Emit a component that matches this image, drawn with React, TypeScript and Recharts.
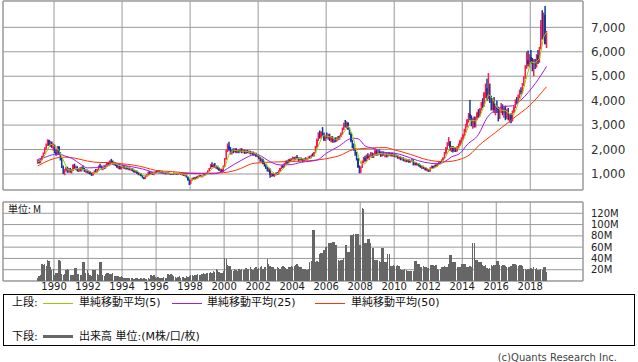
import {
  Bar,
  CartesianGrid,
  ComposedChart,
  Line,
  ReferenceArea,
  XAxis,
  YAxis,
} from 'recharts';

const FONT = "'DejaVu Sans', 'Noto Sans CJK JP', sans-serif";
const CJK = "'Noto Sans CJK JP', 'DejaVu Sans', sans-serif";

const FIRST_YEAR = 1989;
const X_DOMAIN: [number, number] = [1987, 2021.1];
const PRICE_DOMAIN: [number, number] = [345, 8077];
const VOLUME_DOMAIN: [number, number] = [0, 140];

const YEAR_TICKS = [1990, 1992, 1994, 1996, 1998, 2000, 2002, 2004, 2006, 2008, 2010, 2012, 2014, 2016, 2018];
const PRICE_TICKS = [1000, 2000, 3000, 4000, 5000, 6000, 7000];
const VOLUME_TICKS = [20, 40, 60, 80, 100, 120];

// monthly candles from Jan 1989: [open, high, low, close]
const candles: number[][] = [
  [1450,1600,1420,1520],[1520,1580,1430,1460],[1460,1620,1440,1580],[1580,1750,1550,1720],[1720,1880,1690,1850],[1850,2100,1820,2050],[2050,2250,1980,2200],[2200,2420,2150,2380],[2380,2400,2150,2200],[2200,2350,2100,2300],[2300,2330,2050,2100],[2100,2250,1950,2180],
  [2180,2200,1850,1900],[1900,2000,1750,1800],[1800,2150,1780,2100],[2100,2150,1800,1850],[1850,1900,1550,1600],[1600,1650,1250,1300],[1300,1350,1000,1050],[1050,1200,950,1150],[1150,1300,1100,1250],[1250,1300,1050,1100],[1100,1250,1050,1200],[1200,1250,1050,1080],
  [1080,1200,1020,1150],[1150,1400,1120,1350],[1350,1420,1200,1250],[1250,1350,1150,1300],[1300,1320,1100,1150],[1150,1250,1080,1200],[1200,1280,1100,1150],[1150,1300,1100,1250],[1250,1350,1150,1200],[1200,1250,1080,1100],[1100,1200,1050,1150],[1150,1180,1030,1060],
  [1060,1150,1000,1100],[1100,1120,980,1000],[1000,1050,920,950],[950,1080,930,1050],[1050,1150,1020,1120],[1120,1200,1050,1080],[1080,1200,1060,1180],[1180,1350,1150,1320],[1320,1420,1250,1300],[1300,1350,1180,1200],[1200,1300,1150,1280],[1280,1320,1200,1250],
  [1250,1380,1220,1350],[1350,1480,1300,1450],[1450,1500,1320,1380],[1380,1560,1350,1520],[1520,1620,1450,1480],[1480,1550,1380,1400],[1400,1500,1350,1450],[1450,1480,1320,1350],[1350,1400,1250,1280],[1280,1350,1200,1320],[1320,1340,1180,1220],[1220,1320,1180,1300],
  [1300,1380,1250,1350],[1350,1370,1200,1230],[1230,1300,1180,1280],[1280,1320,1180,1200],[1200,1280,1150,1250],[1250,1270,1150,1170],[1170,1250,1120,1220],[1220,1240,1100,1130],[1130,1180,1050,1080],[1080,1150,1040,1120],[1120,1140,1000,1030],[1030,1080,950,980],
  [980,1050,940,1020],[1020,1030,900,920],[920,950,820,850],[850,880,780,820],[820,950,800,920],[920,1000,880,980],[980,1100,950,1080],[1080,1120,980,1000],[1000,1080,960,1050],[1050,1070,960,980],[980,1060,950,1040],[1040,1120,1000,1100],
  [1100,1150,1050,1080],[1080,1160,1060,1130],[1130,1150,1040,1060],[1060,1120,1030,1100],[1100,1130,1020,1050],[1050,1090,1000,1070],[1070,1080,980,1000],[1000,1060,980,1040],[1040,1070,990,1010],[1010,1050,970,1030],[1030,1040,960,980],[980,1040,960,1020],
  [1020,1060,980,1000],[1000,1050,970,1030],[1030,1050,960,980],[980,1040,960,1020],[1020,1060,990,1040],[1040,1050,960,980],[980,1020,940,1000],[1000,1010,920,940],[940,980,900,960],[960,970,850,870],[870,900,720,750],[750,780,550,620],
  [620,760,580,740],[740,850,720,820],[820,860,760,790],[790,880,770,860],[860,900,820,840],[840,930,820,910],[910,970,880,950],[950,960,870,890],[890,950,860,930],[930,1000,900,980],[980,1030,940,960],[960,1060,950,1040],
  [1040,1150,1020,1120],[1120,1250,1100,1230],[1230,1400,1200,1380],[1380,1480,1280,1300],[1300,1420,1260,1400],[1400,1450,1250,1280],[1280,1350,1200,1320],[1320,1340,1180,1200],[1200,1260,1120,1150],[1150,1200,1080,1180],[1180,1200,1070,1100],[1100,1350,1080,1320],
  [1320,1650,1300,1600],[1600,2000,1580,1950],[1950,2250,1900,2150],[2150,2320,1950,2000],[2000,2100,1800,1850],[1850,2000,1800,1980],[1980,2050,1850,1900],[1900,2050,1880,2020],[2020,2060,1850,1880],[1880,2000,1850,1970],[1970,2000,1850,1900],[1900,2050,1880,2000],
  [2000,2050,1850,1900],[1900,2000,1870,1960],[1960,2000,1820,1850],[1850,1980,1820,1950],[1950,1990,1850,1880],[1880,1960,1840,1930],[1930,1950,1800,1830],[1830,1920,1800,1900],[1900,1920,1750,1780],[1780,1880,1750,1850],[1850,1870,1700,1720],[1720,1820,1680,1780],
  [1780,1800,1600,1650],[1650,1700,1500,1550],[1550,1650,1500,1600],[1600,1620,1400,1420],[1420,1480,1300,1330],[1330,1400,1200,1250],[1250,1300,1100,1150],[1150,1250,1080,1200],[1200,1220,850,950],[950,1050,880,1000],[1000,1020,900,930],[930,1000,880,980],
  [980,1060,940,1040],[1040,1080,960,1000],[1000,1150,980,1120],[1120,1250,1100,1230],[1230,1350,1200,1320],[1320,1380,1250,1280],[1280,1450,1260,1420],[1420,1550,1400,1520],[1520,1560,1400,1450],[1450,1620,1430,1580],[1580,1620,1480,1520],[1520,1650,1500,1620],
  [1620,1720,1580,1680],[1680,1700,1550,1580],[1580,1720,1560,1700],[1700,1780,1600,1640],[1640,1680,1520,1560],[1560,1680,1540,1650],[1650,1670,1550,1580],[1580,1620,1480,1550],[1550,1650,1530,1620],[1620,1680,1560,1600],[1600,1660,1560,1640],[1640,1720,1600,1700],
  [1700,1750,1620,1660],[1660,1800,1640,1780],[1780,1850,1700,1740],[1740,1900,1720,1880],[1880,2150,1850,2100],[2100,2450,2050,2400],[2400,2700,2350,2650],[2650,2780,2450,2500],[2500,2750,2450,2700],[2700,2920,2550,2600],[2600,2700,2350,2400],[2400,2600,2350,2550],
  [2550,2700,2450,2500],[2500,2650,2400,2600],[2600,2650,2350,2400],[2400,2550,2300,2500],[2500,2550,2280,2320],[2320,2480,2280,2450],[2450,2500,2300,2350],[2350,2500,2320,2480],[2480,2550,2380,2420],[2420,2580,2400,2550],[2550,2700,2500,2650],[2650,2900,2600,2850],
  [2850,3100,2800,3050],[3050,3210,2900,2950],[2950,3150,2850,3100],[3100,3120,2800,2850],[2850,2900,2600,2650],[2650,2700,2300,2350],[2350,2400,2050,2100],[2100,2250,1950,2000],[2000,2050,1750,1800],[1800,1900,1550,1600],[1600,1650,1250,1300],[1300,1350,1030,1100],
  [1100,1320,1030,1280],[1280,1550,1250,1500],[1500,1700,1450,1650],[1650,1750,1500,1550],[1550,1800,1520,1750],[1750,1850,1600,1650],[1650,1800,1580,1750],[1750,1900,1700,1850],[1850,1880,1650,1700],[1700,1850,1650,1800],[1800,2050,1750,1950],[1950,2000,1750,1800],
  [1800,1950,1750,1900],[1900,2000,1800,1850],[1850,1900,1700,1750],[1750,1900,1720,1880],[1880,1920,1750,1780],[1780,1850,1680,1820],[1820,1850,1680,1700],[1700,1850,1680,1820],[1820,1900,1750,1780],[1780,1860,1720,1840],[1840,1880,1720,1750],[1750,1830,1700,1800],
  [1800,1850,1680,1720],[1720,1800,1680,1760],[1760,1780,1620,1650],[1650,1720,1600,1700],[1700,1720,1560,1600],[1600,1680,1560,1650],[1650,1680,1520,1550],[1550,1620,1500,1600],[1600,1620,1480,1520],[1520,1600,1480,1580],[1580,1600,1450,1480],[1480,1580,1460,1550],
  [1550,1620,1500,1580],[1580,1600,1350,1400],[1400,1480,1350,1450],[1450,1480,1350,1380],[1380,1450,1340,1420],[1420,1440,1300,1330],[1330,1380,1250,1280],[1280,1350,1200,1320],[1320,1340,1200,1230],[1230,1280,1150,1250],[1250,1270,1130,1160],[1160,1220,1100,1180],
  [1180,1200,1080,1120],[1120,1280,1100,1250],[1250,1350,1220,1320],[1320,1340,1220,1260],[1260,1380,1240,1350],[1350,1400,1280,1310],[1310,1450,1300,1420],[1420,1500,1380,1480],[1480,1520,1400,1450],[1450,1600,1430,1570],[1570,1680,1550,1650],[1650,1900,1630,1850],
  [1850,2100,1800,2050],[2050,2300,2000,2250],[2250,2510,2150,2300],[2300,2350,1950,2000],[2000,2150,1900,2100],[2100,2150,1880,1950],[1950,2100,1900,2050],[2050,2080,1900,1950],[1950,2150,1920,2100],[2100,2250,2050,2200],[2200,2400,2150,2350],[2350,2500,2250,2450],
  [2450,2650,2400,2600],[2600,2850,2550,2800],[2800,3050,2700,3000],[3000,3250,2900,3200],[3200,3500,3100,3450],[3450,4030,3200,3300],[3300,3400,2950,3050],[3050,3300,2850,3250],[3250,3350,2900,2950],[2950,3350,2900,3300],[3300,3550,3200,3500],[3500,3650,3300,3400],
  [3400,3700,3350,3650],[3650,3950,3600,3900],[3900,4100,3700,3800],[3800,4350,3750,4300],[4300,4700,4100,4500],[4500,4900,4000,4100],[4100,5130,4050,4600],[4600,4700,3900,4000],[4000,4200,3600,3700],[3700,4100,3600,4000],[4000,4150,3500,3600],[3600,3800,3400,3700],
  [3700,4000,3500,3600],[3600,3750,3150,3300],[3300,3700,3250,3650],[3650,3900,3500,3800],[3800,3850,3400,3500],[3500,3750,3300,3700],[3700,3800,3200,3300],[3300,3650,3250,3600],[3600,3700,3200,3300],[3300,3450,3100,3400],[3400,3500,3080,3200],[3200,3600,3150,3550],
  [3550,3800,3500,3750],[3750,4050,3700,4000],[4000,4150,3850,3950],[3950,4250,3900,4200],[4200,4450,4100,4400],[4400,4550,4250,4350],[4350,4720,4300,4650],[4650,5000,4600,4950],[4950,5450,4900,5400],[5400,6000,5300,5650],[5650,6050,5400,5500],[5500,5900,5350,5800],
  [5800,6070,5500,5600],[5600,5750,5200,5300],[5300,5700,5000,5600],[5600,5700,5300,5400],[5400,5900,5350,5850],[5850,6070,5500,5600],[5600,6200,5550,6150],[6150,7300,6100,7100],[7100,7700,6500,6700],[6700,7600,6600,7500],[7500,7870,6300,6300],[6300,6850,6150,6450],
];

// monthly volume, millions
const volumes = [
  5, 8, 10, 30, 28, 31, 26, 37, 36, 24, 20, 22,
  10, 15, 15, 37, 36, 12, 11, 12, 20, 21, 19, 10,
  10, 10, 23, 23, 13, 13, 10, 11, 34, 33, 15, 20,
  14, 10, 9, 20, 19, 20, 12, 11, 34, 33, 10, 9,
  12, 14, 15, 13, 12, 14, 8, 9, 8, 8, 7, 8,
  7, 6, 5, 6, 5, 5, 6, 5, 4, 5, 5, 4,
  4, 5, 4, 5, 4, 4, 5, 4, 10, 9, 10, 7,
  6, 7, 6, 5, 6, 7, 6, 5, 12, 11, 12, 10,
  9, 7, 6, 7, 8, 6, 7, 7, 6, 8, 7, 9,
  10, 11, 9, 10, 10, 12, 10, 11, 13, 14, 13, 15,
  14, 15, 16, 15, 17, 16, 21, 20, 16, 15, 14, 17,
  40, 39, 28, 27, 26, 20, 18, 22, 20, 18, 21, 19,
  22, 20, 19, 23, 22, 21, 24, 22, 20, 23, 25, 22,
  23, 24, 26, 22, 24, 25, 39, 30, 26, 25, 24, 22,
  22, 24, 23, 21, 25, 26, 24, 23, 22, 25, 24, 26,
  24, 26, 28, 30, 27, 25, 24, 22, 21, 22, 20, 22,
  34, 35, 90, 90, 34, 35, 33, 47, 50, 49, 55, 60,
  61, 67, 67, 67, 70, 70, 64, 64, 37, 36, 38, 37,
  40, 64, 64, 52, 52, 81, 82, 83, 84, 83, 83, 64,
  64, 130, 128, 67, 67, 74, 74, 67, 58, 58, 37, 37,
  37, 36, 34, 58, 58, 34, 33, 48, 48, 27, 26, 28,
  27, 26, 28, 27, 21, 20, 19, 21, 20, 18, 17, 18,
  18, 17, 35, 35, 31, 31, 25, 24, 26, 25, 24, 23,
  23, 28, 29, 28, 27, 28, 21, 20, 21, 25, 24, 26,
  25, 25, 31, 46, 46, 34, 34, 34, 25, 25, 25, 30,
  30, 31, 30, 25, 24, 26, 25, 68, 68, 37, 37, 34,
  34, 34, 28, 27, 28, 23, 22, 23, 28, 27, 29, 28,
  35, 35, 28, 27, 29, 28, 27, 25, 24, 25, 26, 31,
  31, 30, 28, 27, 29, 28, 27, 21, 22, 20, 21, 22,
  23, 22, 24, 21, 23, 20, 19, 21, 20, 24, 25, 16,
];

// moving averages at the listed month indexes
const sma5Months = [
  0, 3, 6, 9, 12, 15, 18, 21, 24, 27, 30, 33, 36, 39, 42, 45, 48, 51, 54, 57,
  60, 63, 66, 69, 72, 75, 78, 81, 84, 87, 90, 93, 96, 99, 102, 105, 108, 111, 114, 117,
  120, 123, 126, 129, 132, 135, 138, 141, 144, 147, 150, 153, 156, 159, 162, 165, 168, 171, 174, 177,
  180, 183, 186, 189, 192, 195, 198, 201, 204, 207, 210, 213, 216, 219, 222, 225, 228, 231, 234, 237,
  240, 243, 246, 249, 252, 255, 258, 261, 264, 267, 270, 273, 276, 279, 282, 285, 288, 291, 294, 297,
  300, 303, 306, 309, 312, 315, 318, 321, 324, 327, 330, 333, 336, 339, 342, 345, 348, 351, 354, 357, 359,
];
const sma5Values = [
  1500, 1570, 1880, 2226, 2136, 1966, 1580, 1170, 1156, 1226, 1210, 1180, 1122, 1032, 1076, 1216, 1276, 1390, 1446, 1360,
  1294, 1272, 1224, 1144, 1046, 918, 930, 1018, 1050, 1094, 1056, 1030, 1008, 1010, 1004, 950, 788, 766, 870, 932,
  1006, 1214, 1336, 1226, 1270, 1804, 1976, 1950, 1930, 1932, 1888, 1858, 1756, 1600, 1350, 1110, 980, 1074, 1274, 1450,
  1570, 1644, 1626, 1600, 1644, 1752, 2154, 2570, 2550, 2510, 2404, 2450, 2704, 2960, 2610, 1970, 1416, 1416, 1670, 1750,
  1830, 1836, 1786, 1792, 1778, 1726, 1630, 1580, 1542, 1472, 1372, 1282, 1188, 1226, 1332, 1446, 1714, 2090, 2080, 2050,
  2340, 2810, 3200, 3170, 3360, 3810, 4260, 4080, 3720, 3610, 3590, 3460, 3440, 3890, 4310, 5000, 5590, 5540, 5720, 6610, 6810,
];
const sma25Months = [0, 5, 12, 16, 19, 24, 31, 35, 42, 49, 54, 59, 66, 73, 84, 95, 107, 123, 130, 134, 144, 153, 158, 162, 171, 178, 186, 197, 204, 212, 222, 226, 231, 236, 245, 252, 259, 268, 277, 282, 287, 292, 298, 303, 311, 317, 323, 329, 335, 341, 351, 359];
const sma25Values = [1600, 1680, 1800, 1800, 1740, 1640, 1370, 1250, 1260, 1380, 1420, 1370, 1300, 1220, 1050, 1020, 1020, 1010, 1090, 1230, 1570, 1790, 1720, 1570, 1370, 1380, 1480, 1570, 1860, 2120, 2460, 2440, 2150, 2060, 1880, 1850, 1740, 1550, 1440, 1420, 1500, 1700, 1850, 2200, 2620, 3300, 3620, 3760, 3790, 4030, 4700, 5400];
const sma50Months = [0, 5, 12, 19, 26, 35, 44, 51, 59, 68, 76, 83, 95, 107, 119, 131, 137, 143, 151, 155, 167, 179, 191, 203, 215, 220, 227, 245, 251, 263, 275, 287, 299, 305, 311, 323, 335, 347, 359];
const sma50Values = [1330, 1480, 1640, 1690, 1650, 1530, 1470, 1470, 1420, 1360, 1260, 1150, 1095, 1040, 1030, 1055, 1110, 1220, 1420, 1450, 1490, 1510, 1540, 1620, 1800, 1950, 2030, 2080, 2000, 1800, 1580, 1500, 1620, 1800, 2150, 2700, 3250, 3800, 4570];

const UP = '#ff1a4b';
const DOWN = '#0b3d9c';
const GRID = '#999999';

type Row = {
  t: number;
  open: number;
  high: number;
  low: number;
  close: number;
  range: [number, number];
  volume: number;
  sma5: number | null;
  sma25: number | null;
  sma50: number | null;
};

const rows: Row[] = candles.map(([open, high, low, close], i) => ({
  t: FIRST_YEAR + (i + 0.5) / 12,
  open,
  high,
  low,
  close,
  range: [low, high],
  volume: volumes[i],
  sma5: null,
  sma25: null,
  sma50: null,
}));
sma5Months.forEach((m, k) => (rows[m].sma5 = sma5Values[k]));
sma25Months.forEach((m, k) => (rows[m].sma25 = sma25Values[k]));
sma50Months.forEach((m, k) => (rows[m].sma50 = sma50Values[k]));

function Candle(props: any) {
  const { x, y, width, height, payload } = props;
  if (!payload || height == null) return null;
  const top = Math.min(y, y + height);
  const h = Math.abs(height);
  const span = payload.high - payload.low;
  const k = span > 0 ? h / span : 0;
  const yOf = (v: number) => top + (payload.high - v) * k;
  const up = payload.close >= payload.open;
  const color = up ? UP : DOWN;
  const bodyTop = yOf(Math.max(payload.open, payload.close));
  const bodyBottom = yOf(Math.min(payload.open, payload.close));
  const cx = x + width / 2;
  return (
    <g>
      <line x1={cx} x2={cx} y1={top} y2={top + h} stroke={color} strokeWidth={1.5} />
      <rect
        x={x}
        y={bodyTop}
        width={width}
        height={Math.max(bodyBottom - bodyTop, 1)}
        fill={color}
        shapeRendering="crispEdges"
      />
    </g>
  );
}

const legendText: React.CSSProperties = {
  position: 'absolute',
  fontFamily: FONT,
  fontSize: 11,
  lineHeight: '14px',
  height: 14,
  color: '#111',
  whiteSpace: 'nowrap',
};

function LegendLine({ left, top, width, color, thick }: { left: number; top: number; width: number; color: string; thick?: number }) {
  return (
    <div
      style={{
        position: 'absolute',
        left,
        top,
        width,
        height: thick ?? 1,
        background: color,
      }}
    />
  );
}

export default function App() {
  return (
    <div style={{ position: 'absolute', left: 0, top: 0, width: 638, height: 362, background: '#fff', fontFamily: FONT }}>
      <div style={{ position: 'absolute', left: 0, top: 0 }}>
        <ComposedChart width={638} height={191} data={rows} margin={{ top: 1, right: 0, bottom: 1, left: 3 }}>
          <CartesianGrid stroke={GRID} />
          <XAxis dataKey="t" type="number" domain={X_DOMAIN} ticks={YEAR_TICKS} allowDataOverflow hide />
          <YAxis
            orientation="right"
            width={55}
            domain={PRICE_DOMAIN}
            ticks={PRICE_TICKS}
            interval={0}
            allowDataOverflow
            axisLine={false}
            tickLine={false}
            tick={{ fontSize: 12, fill: '#333', fontFamily: FONT }}
            tickFormatter={(v: number) => v.toLocaleString('en-US')}
          />
          <ReferenceArea x1={X_DOMAIN[0]} x2={X_DOMAIN[1]} y1={PRICE_DOMAIN[0]} y2={PRICE_DOMAIN[1]} fill="none" stroke={GRID} />
          <Bar dataKey="range" barSize={2} shape={(p: any) => <Candle {...p} />} isAnimationActive={false} />
          <Line dataKey="sma50" type="monotone" stroke="#ff3300" strokeWidth={1} dot={false} connectNulls isAnimationActive={false} />
          <Line dataKey="sma25" type="monotone" stroke="#9d1cf2" strokeWidth={1} dot={false} connectNulls isAnimationActive={false} />
          <Line dataKey="sma5" type="linear" stroke="#99cc00" strokeWidth={1} dot={false} connectNulls isAnimationActive={false} />
        </ComposedChart>
      </div>

      <div style={{ position: 'absolute', left: 0, top: 195 }}>
        <ComposedChart width={638} height={100} data={rows} margin={{ top: 7, right: 0, bottom: 0, left: 3 }}>
          <CartesianGrid stroke={GRID} />
          <XAxis
            dataKey="t"
            type="number"
            domain={X_DOMAIN}
            ticks={YEAR_TICKS}
            interval={0}
            allowDataOverflow
            height={14}
            axisLine={false}
            tickLine={false}
            tickSize={0}
            tickMargin={2}
            tick={{ fontSize: 10, fill: '#222', fontFamily: FONT }}
            tickFormatter={(v: number) => String(v)}
          />
          <YAxis
            orientation="right"
            width={55}
            domain={VOLUME_DOMAIN}
            ticks={VOLUME_TICKS}
            interval={0}
            allowDataOverflow
            axisLine={false}
            tickLine={false}
            tick={{ fontSize: 10, fill: '#222', fontFamily: FONT }}
            tickFormatter={(v: number) => `${v}M`}
          />
          <ReferenceArea x1={X_DOMAIN[0]} x2={X_DOMAIN[1]} y1={VOLUME_DOMAIN[0]} y2={VOLUME_DOMAIN[1]} fill="none" stroke={GRID} />
          <Bar dataKey="volume" barSize={1.5} fill="#666666" shapeRendering="crispEdges" isAnimationActive={false} />
        </ComposedChart>
      </div>

      <div style={{ position: 'absolute', left: 8, top: 203, fontSize: 10, lineHeight: '11px', fontFamily: CJK, color: '#111' }}>
        単位: M
      </div>

      <div style={{ position: 'absolute', left: 3, top: 294, width: 632, height: 52, border: '1px solid #000', boxSizing: 'border-box' }} />
      <div style={{ ...legendText, left: 12, top: 296 }}>上段:</div>
      <LegendLine left={43} top={303} width={30} color="#99cc00" />
      <div style={{ ...legendText, left: 79, top: 296 }}>単純移動平均(5)</div>
      <LegendLine left={172} top={303} width={30} color="#9d1cf2" />
      <div style={{ ...legendText, left: 207, top: 296 }}>単純移動平均(25)</div>
      <LegendLine left={315} top={303} width={30} color="#ff3300" />
      <div style={{ ...legendText, left: 351, top: 296 }}>単純移動平均(50)</div>

      <div style={{ ...legendText, left: 12, top: 330 }}>下段:</div>
      <LegendLine left={43} top={335} width={30} color="#666666" thick={3} />
      <div style={{ ...legendText, left: 79, top: 330 }}>出来高 単位:(M株/口/枚)</div>

      <div style={{ position: 'absolute', right: 21, top: 352, fontSize: 10, lineHeight: '12px', color: '#444', fontFamily: FONT }}>
        (c)Quants Research Inc.
      </div>
    </div>
  );
}
